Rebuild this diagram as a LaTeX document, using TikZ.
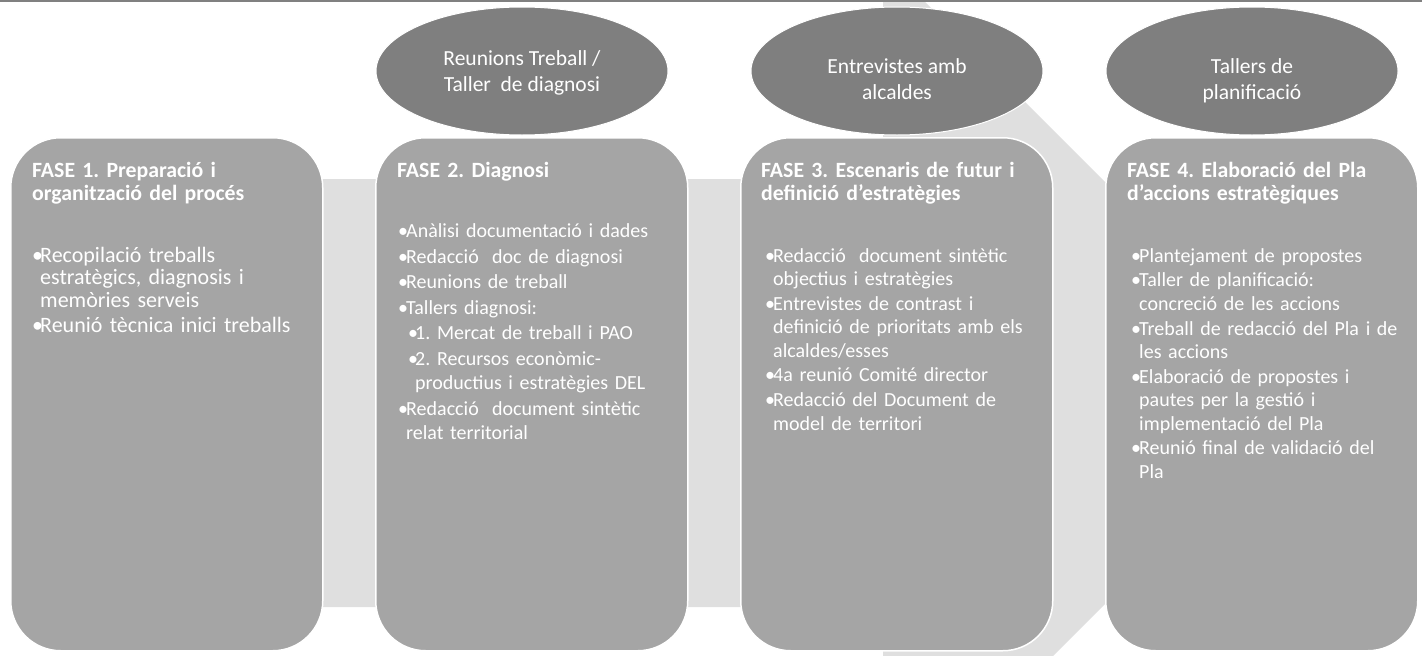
\documentclass[tikz,border=0pt]{standalone}
\usepackage{fontspec}
\setmainfont{Carlito}
\usetikzlibrary{shapes.geometric}
\definecolor{bandc}{HTML}{DFDFDF}
\definecolor{boxc}{HTML}{A5A5A5}
\definecolor{ellc}{HTML}{7F7F7F}
\definecolor{linec}{HTML}{808080}
\frenchspacing
\newcommand\bl{\makebox[8pt][l]{•}}
\newcommand\itm[1]{\par\hangindent=8pt\hangafter=1\noindent\bl#1}
\newcommand\sitm[1]{\par\hangindent=17pt\hangafter=1\noindent\hspace*{10pt}\makebox[7pt][l]{•}#1}
\newcommand\topstrut{\rule{0pt}{20pt}}
\begin{document}
\begin{tikzpicture}[x=1pt,y=-1pt,
 phase/.style={draw=white, line width=1.5pt, fill=boxc, rounded corners=50pt, minimum width=312pt, minimum height=513pt, anchor=north west, inner sep=0pt},
 ell/.style={ellipse, draw=white, line width=1pt, fill=ellc, minimum width=292pt, minimum height=128pt, inner sep=0pt},
 etext/.style={anchor=north, inner sep=0pt, text=white, align=center},
 head/.style={anchor=north west, inner sep=0pt, text width=295pt, text=white, align=left, font=\fontsize{21.8}{23.5}\selectfont\bfseries},
 body/.style={anchor=north west, inner sep=0pt, text width=295pt, text=white},
]
\useasboundingbox (0,0) rectangle (1422,656);
\begin{scope}
\clip (0,0) rectangle (1422,656);
\fill[bandc] (120,179) -- (883,179) -- (883,-40) -- (1316,393) -- (883,826) -- (883,607) -- (120,607) -- cycle;
\end{scope}
\draw[linec, line width=2pt] (0,1) -- (1422,1);

\node[phase] (b1) at (10,137) {};
\node[phase] (b2) at (375,137) {};
\node[phase] (b3) at (740,137) {};
\node[phase] (b4) at (1105,137) {};

\node[ell] (e1) at (522,71) {};
\node[ell] (e2) at (897,71) {};
\node[ell] (e3) at (1252,71) {};
\node[etext, font=\fontsize{21.5}{26.5}\selectfont] (l1) at (522,45) {\topstrut Reunions Treball /\\Taller\ \ de diagnosi};
\node[etext, font=\fontsize{21.5}{26}\selectfont] (l2) at (897,53) {\topstrut Entrevistes amb\\alcaldes};
\node[etext, font=\fontsize{21.5}{26}\selectfont] (l3) at (1252,53) {\topstrut Tallers de\\planificació};

\node[head] (h1) at ([xshift=22pt,yshift=-20pt]b1.north west) {\topstrut FASE 1. Preparació i\\organització del procés};
\node[head] (h2) at ([xshift=22pt,yshift=-20pt]b2.north west) {\topstrut FASE 2. Diagnosi};
\node[head] (h3) at ([xshift=21pt,yshift=-20pt]b3.north west) {\topstrut FASE 3. Escenaris de futur i\\definició d’estratègies};
\node[head] (h4) at ([xshift=22pt,yshift=-20pt]b4.north west) {\topstrut FASE 4. Elaboració del Pla\\d’accions estratègiques};

\node[body, font=\fontsize{22}{22.7}\selectfont] (t1) at ([xshift=22pt,yshift=-100pt]b1.north west) {\raggedright\parskip=2.3pt
\itm{\topstrut Recopilació treballs\newline estratègics, diagnosis i\newline memòries serveis}
\itm{Reunió tècnica inici treballs}\par};
\node[body, font=\fontsize{20}{24.5}\selectfont] (t2) at ([xshift=23pt,yshift=-75pt]b2.north west) {\raggedright\parskip=1pt
\itm{\topstrut Anàlisi documentació i dades}
\itm{Redacció\ \ doc de diagnosi}
\itm{Reunions de treball}
\itm{Tallers diagnosi:}
\sitm{1. Mercat de treball i PAO}
\sitm{2. Recursos econòmic-\newline productius i estratègies DEL}
\itm{Redacció\ \ document sintètic\newline relat territorial}\par};
\node[body, font=\fontsize{20}{23.4}\selectfont] (t3) at ([xshift=25pt,yshift=-100pt]b3.north west) {\raggedright\parskip=1.4pt
\itm{\topstrut Redacció\ \ document sintètic\newline objectius i estratègies}
\itm{Entrevistes de contrast i\newline definició de prioritats amb els\newline alcaldes/esses}
\itm{4a reunió Comité director}
\itm{Redacció del Document de\newline model de territori}\par};
\node[body, font=\fontsize{20}{23.4}\selectfont] (t4) at ([xshift=26pt,yshift=-100pt]b4.north west) {\raggedright\parskip=1.4pt
\itm{\topstrut Plantejament de propostes}
\itm{Taller de planificació:\newline concreció de les accions}
\itm{Treball de redacció del Pla i de\newline les accions}
\itm{Elaboració de propostes i\newline pautes per la gestió i\newline implementació del Pla}
\itm{Reunió final de validació del\newline Pla}\par};
\end{tikzpicture}
\end{document}
